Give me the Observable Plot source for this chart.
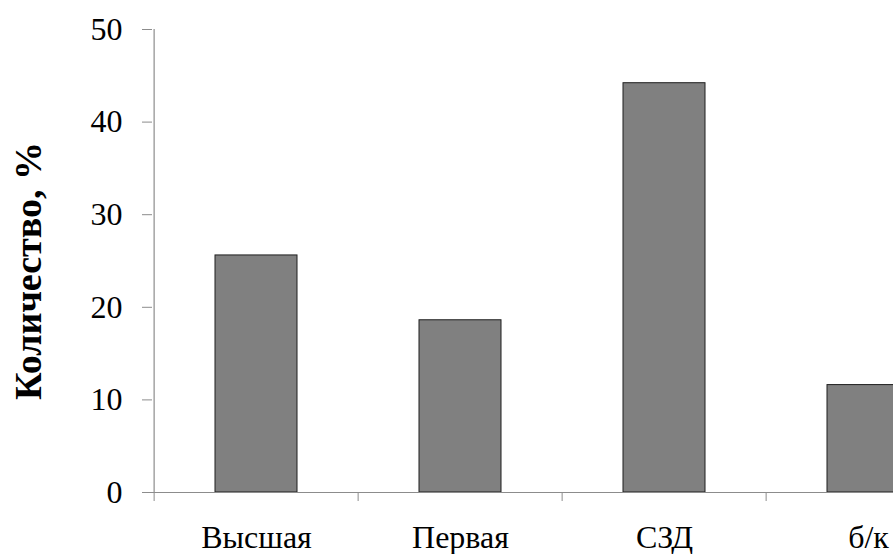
<!DOCTYPE html>
<html>
<head>
<meta charset="utf-8">
<script src="https://cdn.jsdelivr.net/npm/d3@7"></script>
<script src="https://cdn.jsdelivr.net/npm/@observablehq/plot@0.6"></script>
<style>
  html, body { margin: 0; padding: 0; background: #fff; overflow: hidden; }
  #chart svg { display: block; }
  #chart svg, #chart svg text { font-family: "Liberation Serif", "Times New Roman", serif !important; }
</style>
</head>
<body>
<div id="chart"></div>
<script>
const categories = ["Высшая", "Первая", "СЗД", "б/к"];
const values = [25.6, 18.6, 44.2, 11.6];
const yTicks = [0, 10, 20, 30, 40, 50];
const yLabel = "Количество, %";

const data = categories.map((c, i) => ({category: c, value: values[i]}));

const W = 893, H = 554;
const xRange = [152, 971];
const step = (xRange[1] - xRange[0]) / categories.length;
const axisGray = "#8c8c8c";
const font = "'Liberation Serif', 'Times New Roman', serif";

const chart = Plot.plot({
  width: W,
  height: H,
  marginLeft: 152,
  marginRight: 0,
  marginTop: 29,
  marginBottom: 62,
  style: {fontFamily: font, background: "#fff", overflow: "hidden"},
  x: {domain: categories, range: xRange, paddingInner: 0.6, paddingOuter: 0.3, align: 0.5},
  y: {domain: [0, 50]},
  marks: [
    Plot.barY(data, {x: "category", y: "value", fill: "#808080", stroke: "#1e1e1e", strokeWidth: 1}),
    Plot.ruleY([0], {stroke: axisGray, strokeWidth: 1.2}),
    Plot.ruleX([categories[0]], {dx: -step / 2, y1: 0, y2: 50, stroke: axisGray, strokeWidth: 1.2}),
    Plot.axisY({ticks: yTicks, tickSize: 10, tickPadding: 20, fontSize: 32, fontFamily: font, stroke: axisGray, fill: "#000", label: null, tickFormat: d => String(d)}),
    Plot.axisX({tickSize: 9, dx: -step / 2, stroke: axisGray, tickFormat: () => "", label: null}),
    Plot.axisX({tickSize: 0, tickPadding: 33, fontSize: 32, fontFamily: font, fill: "#000", label: null}),
    Plot.text([yLabel], {frameAnchor: "left", textAnchor: "middle", rotate: -90, dx: -124, dy: 10, fontSize: 38, fontFamily: font, fontWeight: "bold", fill: "#000"})
  ]
});

document.getElementById("chart").appendChild(chart);
</script>
</body>
</html>
